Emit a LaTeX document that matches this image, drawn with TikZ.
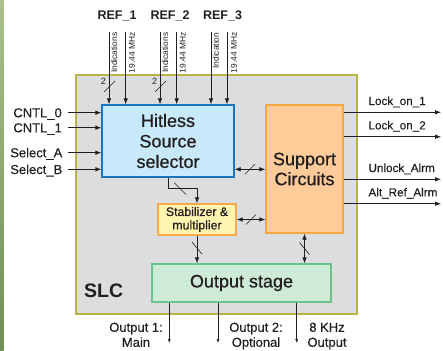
\documentclass[tikz,border=0pt]{standalone}
\usepackage{fontspec}
\setmainfont{Liberation Sans}
\newfontfamily\medfont[FakeBold=0.7]{Liberation Sans}
\newfontfamily\semifont[FakeBold=0.3]{Liberation Sans}
\usetikzlibrary{arrows.meta}

\definecolor{ink}{HTML}{231F20}
\definecolor{slcgray}{HTML}{DCDDDF}
\definecolor{slcedge}{HTML}{B4B545}
\definecolor{hssfill}{HTML}{C8E9F9}
\definecolor{hssedge}{HTML}{1B75BC}
\definecolor{supfill}{HTML}{FFCC99}
\definecolor{supedge}{HTML}{F7A941}
\definecolor{stabfill}{HTML}{FFF5B0}
\definecolor{stabedge}{HTML}{F9A94B}
\definecolor{outfill}{HTML}{CDEBD6}
\definecolor{outedge}{HTML}{6CC28B}
\definecolor{stripA}{HTML}{A9C08A}
\definecolor{stripB}{HTML}{728F52}

\begin{document}
\begin{tikzpicture}[x=1pt,y=-1pt,
  every node/.style={text=ink},
  box/.style={draw, line width=1.3pt, inner sep=0pt, align=center},
  lbl/.style={inner sep=0pt, font=\fontsize{13}{15}\selectfont\semifont},
  olbl/.style={inner sep=0pt, font=\fontsize{11.7}{14}\selectfont\semifont},
  reflbl/.style={inner sep=0pt, font=\fontsize{12.5}{14}\selectfont\bfseries},
  vlbl/.style={inner sep=0pt, rotate=90, anchor=east, font=\fontsize{8.4}{10}\selectfont},
  buslbl/.style={inner sep=0pt, font=\fontsize{9}{10}\selectfont},
  arr/.style={line width=0.8pt, draw=ink, -{Latex[length=6pt,width=4.6pt]}},
  darr/.style={line width=0.8pt, draw=ink, {Latex[length=6pt,width=4.6pt]}-{Latex[length=6pt,width=4.6pt]}},
  sarr/.style={line width=0.6pt, draw=ink, -{Latex[length=4pt,width=3pt]}},
  tick/.style={line width=0.6pt, draw=ink}]

\useasboundingbox (0,0) rectangle (443,350);
\fill[white] (0,0) rectangle (443,350);
\shade[top color=stripA, bottom color=stripB] (0,0) rectangle (3.5,350);

% SLC enclosure
\draw[fill=slcgray, draw=slcedge, line width=1.4pt] (76,75) rectangle (357,314);
\node[inner sep=0pt, anchor=base west, font=\fontsize{19.5}{22}\selectfont\bfseries] (slc) at (84,297) {SLC};

% functional blocks
\node[box, draw=hssedge, fill=hssfill, minimum width=132pt, minimum height=72pt,
      font=\fontsize{18}{20.5}\selectfont\medfont] (hss) at (168,141) {Hitless\\Source\\selector};
\node[box, draw=supedge, fill=supfill, minimum width=77pt, minimum height=128pt,
      font=\fontsize{18}{20}\selectfont\medfont] (sup) at (304.5,169) {Support\\Circuits};
\node[box, draw=stabedge, fill=stabfill, minimum width=78pt, minimum height=31pt,
      font=\fontsize{12.3}{13.4}\selectfont\medfont] (stab) at (197,219.5) {Stabilizer \&\\multiplier};
\node[box, draw=outedge, fill=outfill, minimum width=179pt, minimum height=38pt,
      font=\fontsize{18}{20}\selectfont\medfont] (out) at (241.5,283) {Output stage};

% reference inputs
\node[reflbl, anchor=base] (ref1) at (117,20) {REF\_1};
\node[reflbl, anchor=base] (ref2) at (170,20) {REF\_2};
\node[reflbl, anchor=base] (ref3) at (222.5,20) {REF\_3};

\coordinate (r1i) at (109,32);
\coordinate (r1c) at (125.7,32);
\coordinate (r2i) at (160,32);
\coordinate (r2c) at (176.7,32);
\coordinate (r3i) at (211,32);
\coordinate (r3c) at (227,32);
\foreach \c in {r1i,r1c,r2i,r2c,r3i,r3c}
  \draw[arr] (\c) -- (\c |- hss.north);

\node[vlbl] (r1il) at (114,32.5) {Indications};
\node[vlbl] (r1cl) at (132,32.5) {19.44 MHz};
\node[vlbl] (r2il) at (165,32.5) {Indications};
\node[vlbl] (r2cl) at (182.7,32.5) {19.44 MHz};
\node[vlbl] (r3il) at (215.8,32.5) {Indication};
\node[vlbl] (r3cl) at (234,32.5) {19.44 MHz};

% two-bit indication buses
\draw[tick] (109.5,86.5) +(-5.5,5.5) -- +(5.5,-5.5);
\node[buslbl] (w1) at (103.5,81) {2};
\draw[tick] (160.5,86.5) +(-5.5,5.5) -- +(5.5,-5.5);
\node[buslbl] (w2) at (154.5,81) {2};

% control inputs
\node[lbl, anchor=base east] (cntl0) at (62,117.3) {CNTL\_0};
\node[lbl, anchor=base east] (cntl1) at (62,132.3) {CNTL\_1};
\node[lbl, anchor=base east] (sela) at (62.5,157.3) {Select\_A};
\node[lbl, anchor=base east] (selb) at (62.5,174) {Select\_B};
\coordinate (c0) at (68,112.7);
\coordinate (c1) at (68,127.7);
\coordinate (sa) at (68,152.7);
\coordinate (sb) at (68,169.3);
\foreach \c in {c0,c1,sa,sb}
  \draw[arr] (\c) -- (\c -| hss.west);

% status outputs
\coordinate (lk1) at (441,112.3);
\coordinate (lk2) at (441,136.7);
\coordinate (ula) at (441,179.3);
\coordinate (ara) at (441,203.7);
\foreach \c in {lk1,lk2,ula,ara}
  \draw[arr] (\c -| sup.east) -- (\c);
\node[olbl, anchor=base west] (lk1l) at (368.3,105) {Lock\_on\_1};
\node[olbl, anchor=base west] (lk2l) at (368.3,129.4) {Lock\_on\_2};
\node[olbl, anchor=base west] (ulal) at (368.3,172) {Unlock\_Alrm};
\node[olbl, anchor=base west] (aral) at (368.3,196.4) {Alt\_Ref\_Alrm};

% internal buses
\coordinate (hy) at (250,169.3);
\draw[darr] (hy -| hss.east) -- coordinate[pos=0.5] (m1) (hy -| sup.west);
\draw[tick] (m1) +(-5,5) -- +(5,-5);

\draw[darr] (stab.east) -- coordinate[pos=0.5] (m2) (stab.east -| sup.west);
\draw[tick] (m2) +(-5,5) -- +(5,-5);

\draw[arr] (hss.south) -- ++(0,11) coordinate (e1) -| (stab.north);
\draw[tick] (180,188.5) +(-6,-6) -- +(6,6);

\draw[arr] (stab.south) -- coordinate[pos=0.45] (m3) (stab.south |- out.north);
\draw[tick] (m3) +(-5,-6) -- +(5,6);

\draw[darr] (sup.south) -- coordinate[pos=0.5] (m4) (sup.south |- out.north);
\draw[tick] (m4) +(-5,-6) -- +(5,6);

% clock outputs
\coordinate (o1) at (169.3,343);
\coordinate (o2) at (218,343);
\coordinate (o3) at (296.7,343);
\foreach \c in {o1,o2,o3}
  \draw[sarr] (\c |- out.south) -- (\c);
\node[lbl, anchor=north, align=center] (o1l) at (136,322.5) {Output 1:\\Main};
\node[lbl, anchor=north, align=center] (o2l) at (256,322.5) {Output 2:\\Optional};
\node[lbl, anchor=north, align=center] (o3l) at (327,322.5) {8 KHz\\Output};
\end{tikzpicture}
\end{document}
